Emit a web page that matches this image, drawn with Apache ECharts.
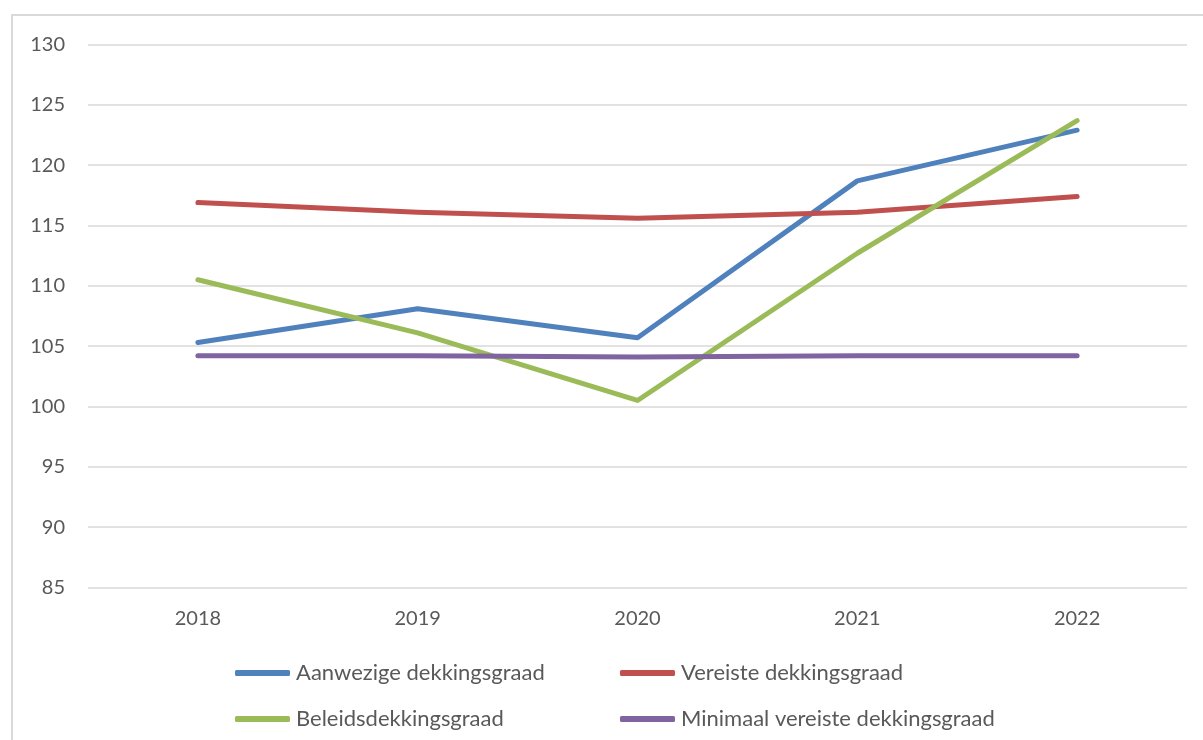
<!DOCTYPE html>
<html>
<head>
<meta charset="utf-8">
<script src="https://cdn.jsdelivr.net/npm/echarts@6/dist/echarts.min.js"></script>
<style>
  html, body { margin: 0; padding: 0; background: #fff; }
  #chart { width: 1203px; height: 740px; }
</style>
</head>
<body>
<div id="chart"></div>
<script>
// Dekkingsgraden per jaar (%)
const years = ['2018', '2019', '2020', '2021', '2022'];
const aanwezige = [105.3, 108.1, 105.7, 118.7, 122.9];
const vereiste = [116.9, 116.1, 115.6, 116.1, 117.4];
const beleids = [110.5, 106.1, 100.5, 112.7, 123.7];
const minimaal = [104.2, 104.2, 104.1, 104.2, 104.2];

const seriesNames = [
  'Aanwezige dekkingsgraad',
  'Vereiste dekkingsgraad',
  'Beleidsdekkingsgraad',
  'Minimaal vereiste dekkingsgraad'
];
const seriesData = [aanwezige, vereiste, beleids, minimaal];
const colors = ['#4f81bd', '#c0504d', '#9bbb59', '#8064a2'];

const FONT = 'Lato, "Open Sans", sans-serif';
const TEXT = '#595959';

// one legend block per series so every entry sits in its own slot
const legendPos = [
  { left: 235, top: 662 },
  { left: 620, top: 662 },
  { left: 235, top: 708 },
  { left: 620, top: 708 }
];

const chart = echarts.init(document.getElementById('chart'));
chart.setOption({
  animation: false,
  backgroundColor: '#fff',
  graphic: [{
    type: 'rect',
    shape: { x: 12, y: 15, width: 1220, height: 760 },
    style: { fill: 'none', stroke: '#d9d9d9', lineWidth: 2 },
    silent: true,
    z: -1
  }],
  grid: { left: 88, right: 16, top: 44.5, bottom: 152.5 },
  xAxis: {
    type: 'category',
    data: years,
    boundaryGap: true,
    axisLine: { show: false },
    axisTick: { show: false },
    axisLabel: { color: TEXT, fontFamily: FONT, fontSize: 20, margin: 21 }
  },
  yAxis: {
    type: 'value',
    min: 85,
    max: 130,
    interval: 5,
    axisLine: { show: false },
    axisTick: { show: false },
    axisLabel: { color: TEXT, fontFamily: FONT, fontSize: 20, margin: 23 },
    splitLine: { lineStyle: { color: '#d9d9d9', width: 1.5 } }
  },
  legend: seriesNames.map((name, i) => ({
    data: [name],
    left: legendPos[i].left,
    top: legendPos[i].top,
    padding: 0,
    icon: 'roundRect',
    itemWidth: 55,
    itemHeight: 6,
    itemGap: 0,
    textStyle: { color: TEXT, fontFamily: FONT, fontSize: 22, padding: [0, 0, 0, 1] },
    selectedMode: false
  })),
  series: seriesNames.map((name, i) => ({
    name,
    type: 'line',
    data: seriesData[i],
    symbol: 'none',
    color: colors[i],
    lineStyle: { width: 5, color: colors[i], cap: 'round', join: 'round' }
  }))
});
</script>
</body>
</html>
